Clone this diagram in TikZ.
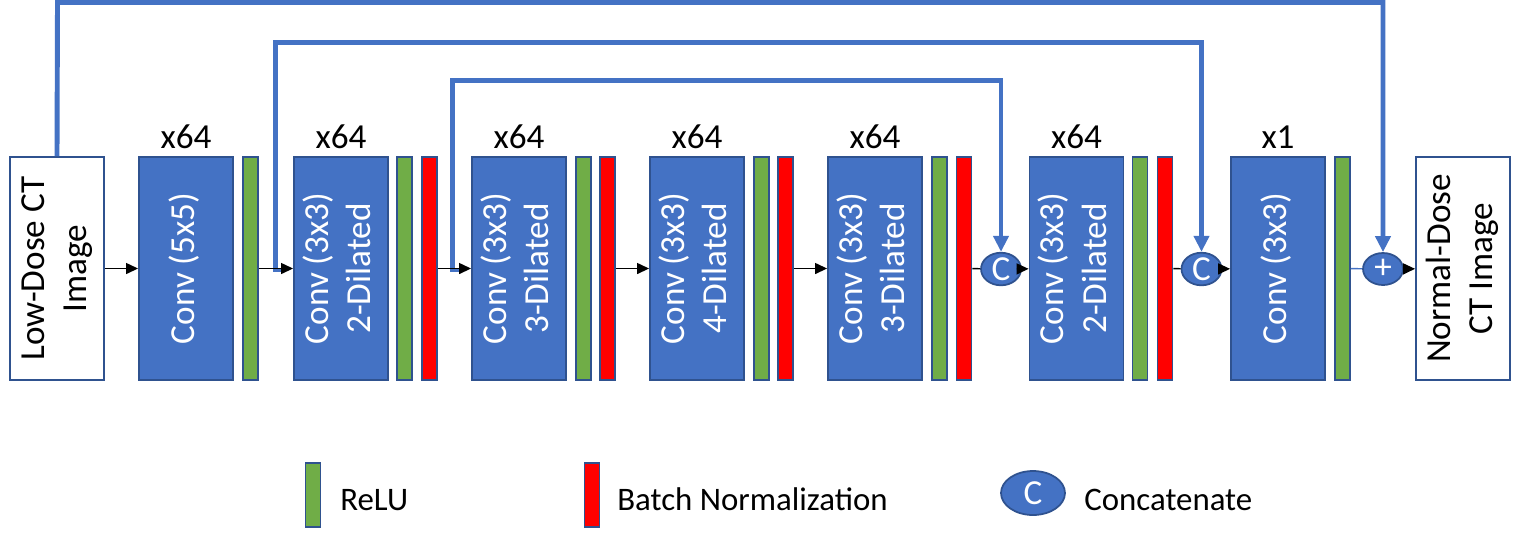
\documentclass[tikz,border=0pt]{standalone}
\usepackage{fontspec}
\setmainfont{Carlito}
\usepackage{graphicx}
\usetikzlibrary{positioning, arrows.meta, shapes.geometric}
\usepackage{xcolor}
\definecolor{convblue}{HTML}{4472C4}
\definecolor{convborder}{HTML}{2F528F}
\definecolor{relugreen}{HTML}{70AD47}
\definecolor{bnred}{HTML}{FF0000}
\newcommand{\vlabel}[1]{\rotatebox{90}{\begin{tabular}{@{}c@{}}#1\end{tabular}}}

\begin{document}
\begin{tikzpicture}[x=0.02cm, y=-0.02cm,
  every node/.style={font=\fontsize{20}{24}\selectfont},
  conv/.style={draw=convborder, fill=convblue, line width=1.1pt, text=white,
    minimum width=1.88cm, minimum height=4.46cm, inner sep=0pt},
  iobox/.style={conv, fill=white, text=black},
  relu/.style={draw=convborder, fill=relugreen, line width=1.1pt,
    minimum width=0.3cm, minimum height=4.46cm, inner sep=0pt},
  bnorm/.style={relu, fill=bnred},
  merge/.style={ellipse, draw=convborder, fill=convblue, line width=1pt, text=white,
    minimum width=0.8cm, minimum height=0.64cm, inner sep=0pt},
  count/.style={anchor=base, inner sep=0pt},
  flow/.style={-{Triangle[length=0.24cm, width=0.22cm]}, line width=0.8pt},
  skip/.style={draw=convblue, line width=2.8pt,
    -{Triangle[length=0.32cm, width=0.3cm]}},
  legtext/.style={anchor=base west, inner sep=0pt, font=\fontsize{18.7}{22}\selectfont}]

\useasboundingbox (0,0) rectangle (1531,539);

% ---- input / output ----
\node[iobox] (in) at (57,268.5) {\vlabel{Low-Dose CT\\Image}};
\node[iobox] (out) at (1463,268.5) {\vlabel{Normal-Dose\\CT Image}};

% ---- conv blocks ----
\node[conv] (c1) at (186,268.5) {\vlabel{Conv (5x5)}};
\node[conv] (c2) at (341,268.5) {\vlabel{Conv (3x3)\\2-Dilated}};
\node[conv] (c3) at (519,268.5) {\vlabel{Conv (3x3)\\3-Dilated}};
\node[conv] (c4) at (697,268.5) {\vlabel{Conv (3x3)\\4-Dilated}};
\node[conv] (c5) at (875,268.5) {\vlabel{Conv (3x3)\\3-Dilated}};
\node[conv] (c6) at (1076.5,268.5) {\vlabel{Conv (3x3)\\2-Dilated}};
\node[conv] (c7) at (1278,268.5) {\vlabel{Conv (3x3)}};

\foreach \n/\x/\k in {1/186/x64, 2/341/x64, 3/519/x64, 4/697/x64, 5/875/x64, 6/1076.5/x64, 7/1278/x1} {
  \node[count] (k\n) at (\x,148) {\k};
}

% ---- ReLU / BN bars ----
\node[relu] (g1) at (250.5,268.5) {};
\node[relu] (g2) at (404.5,268.5) {};
\node[bnorm] (r2) at (429.5,268.5) {};
\node[relu] (g3) at (583.5,268.5) {};
\node[bnorm] (r3) at (607.5,268.5) {};
\node[relu] (g4) at (761.5,268.5) {};
\node[bnorm] (r4) at (785.5,268.5) {};
\node[relu] (g5) at (939.5,268.5) {};
\node[bnorm] (r5) at (964,268.5) {};
\node[relu] (g6) at (1140,268.5) {};
\node[bnorm] (r6) at (1165,268.5) {};
\node[relu] (g7) at (1342.5,268.5) {};

% ---- merge nodes ----
\node[merge] (m1) at (1001,269) {C};
\node[merge] (m2) at (1201.5,269) {C};
\node[merge] (plus) at (1383,269) {+};

% ---- skip connections ----
\coordinate (tap2) at (285,270);
\coordinate (top2) at (275.5,42.5);
\coordinate (tap3) at (463,270);
\coordinate (top3) at (452.5,80.5);
\coordinate (top1) at (57.5,2.5);
\draw[skip] (in.north) -- (top1) -| (plus.north);
\draw[skip] (tap2) -| (top2) -| (m2.north);
\draw[skip] (tap3) -| (top3) -| (m1.north);

% ---- main flow ----
\foreach \a/\b in {in/c1, g1/c2, r2/c3, r3/c4, r4/c5, m1/c6, m2/c7, plus/out} {
  \draw[flow] (\a) -- (\b);
}
\draw[line width=0.8pt] (r5) -- (m1);
\draw[line width=0.8pt] (r6) -- (m2);
\draw[convblue, line width=0.8pt] (g7) -- (plus);

% ---- legend ----
\node[relu, minimum height=1.28cm] (lrelu) at (313,495) {};
\node[bnorm, minimum height=1.28cm] (lbn) at (592,495) {};
\node[merge, minimum width=1.28cm, minimum height=0.88cm] (lcat) at (1033,493) {C};
\node[legtext] (trelu) at (340,510) {ReLU};
\node[legtext] (tbn) at (617,510) {Batch Normalization};
\node[legtext] (tcat) at (1084,510) {Concatenate};
\end{tikzpicture}
\end{document}
